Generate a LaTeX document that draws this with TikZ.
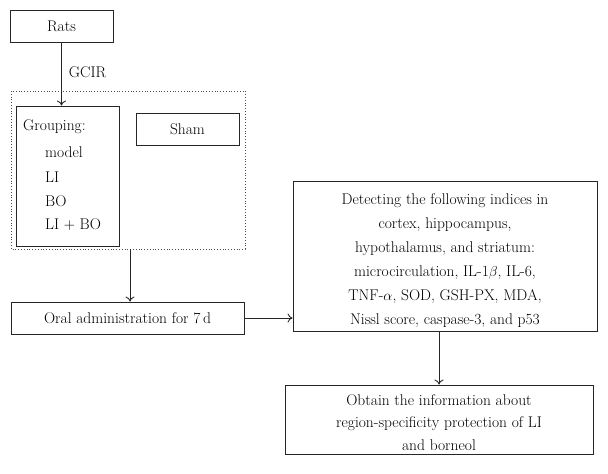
\documentclass[tikz,border=0pt]{standalone}
\usepackage{fontspec}
\usetikzlibrary{arrows.meta}
\begin{document}
\begin{tikzpicture}[x=1pt,y=-1pt,
  box/.style={draw=black!85,line width=0.9pt,rectangle,inner sep=0pt,align=center,font=\fontsize{15.5}{24}\selectfont},
  conn/.style={draw=black!85,line width=0.9pt,-{To[length=5pt,width=9pt]}},
  lbl/.style={font=\fontsize{15.5}{24}\selectfont,inner sep=0pt,align=center}]
\useasboundingbox (0,0) rectangle (608,474);
\node[box,minimum width=103pt,minimum height=32pt] (rats) at (61.5,26) {Rats};
\draw[black!70,line width=0.8pt,dotted] (11,91) rectangle (245,249);
\coordinate (dotbot) at (130,249);
\node[box,minimum width=103pt,minimum height=140pt] (group) at (67.5,176) {};
\node[lbl,anchor=west] (g0) at (23,127) {Grouping:};
\node[lbl,anchor=west] (g1) at (45,152) {model};
\node[lbl,anchor=west] (g2) at (45,177) {LI};
\node[lbl,anchor=west] (g3) at (45,201) {BO};
\node[lbl,anchor=west] (g4) at (45,225) {LI + BO};
\node[box,minimum width=103pt,minimum height=32pt] (sham) at (187.5,129) {Sham};
\node[box,minimum width=233pt,minimum height=32pt] (oral) at (127.5,318) {Oral administration for 7\,d};
\node[box,minimum width=304pt,minimum height=150pt] (detect) at (445,256) {};
\node[lbl] (detecttext) at (445,260.5)
  {Detecting the following indices in\\cortex, hippocampus,\\hypothalamus, and striatum:\\microcirculation, IL-1$\beta$, IL-6,\\TNF-$\alpha$, SOD, GSH-PX, MDA,\\Nissl score, caspase-3, and p53};
\node[box,minimum width=308pt,minimum height=69pt] (obtain) at (439,419.5) {};
\node[lbl,font=\fontsize{15.5}{22.5}\selectfont] (obtaintext) at (439,422.5)
  {Obtain the information about\\region-specificity protection of LI\\and borneol};
\draw[conn] (rats.south) -- node[lbl,right=7pt,pos=0.47] (gcir) {GCIR} (rats.south |- group.north);
\draw[conn] (dotbot) -- (dotbot |- oral.north);
\draw[conn] (oral.east) -- (oral.east -| detect.west);
\draw[conn] (detect.south -| obtain.north) -- (obtain.north);
\end{tikzpicture}
\end{document}
